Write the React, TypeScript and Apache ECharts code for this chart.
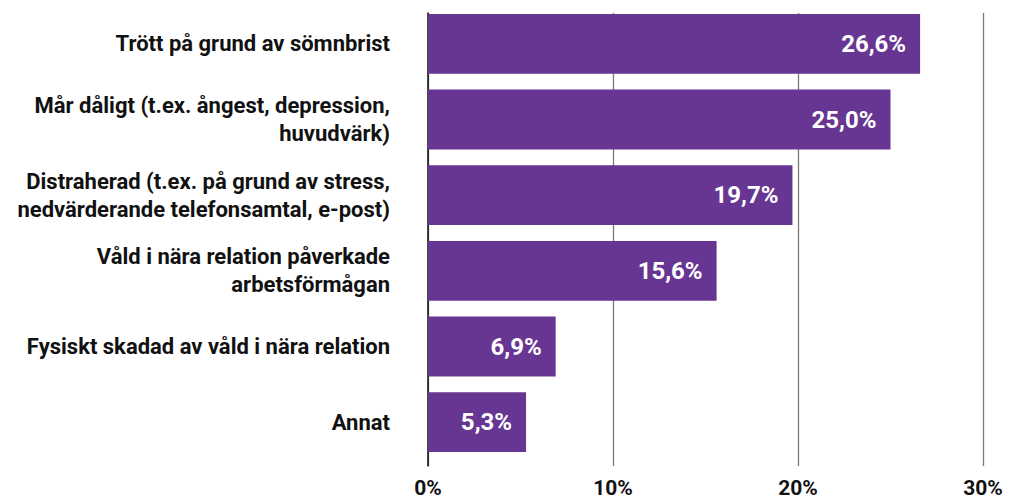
import React, { useEffect, useRef } from "react";
import * as echarts from "echarts";

const categories = [
  "Trött på grund av sömnbrist",
  "Mår dåligt (t.ex. ångest, depression,\nhuvudvärk)",
  "Distraherad (t.ex. på grund av stress,\nnedvärderande telefonsamtal, e-post)",
  "Våld i nära relation påverkade\narbetsförmågan",
  "Fysiskt skadad av våld i nära relation",
  "Annat",
];
const values = [26.6, 25.0, 19.7, 15.6, 6.9, 5.3];
const xTicks = [0, 10, 20, 30];

const FONT = "Roboto, sans-serif";

export default function App() {
  const ref = useRef<HTMLDivElement>(null);
  useEffect(() => {
    if (!ref.current) return;
    const chart = echarts.init(ref.current, null, { renderer: "svg" });
    chart.setOption({
      animation: false,
      grid: [
        { left: 428, right: 27, top: 6, height: 454 },
        { left: 428, right: 27, top: 13, bottom: 34 },
      ],
      xAxis: [
        {
          gridIndex: 0,
          type: "value",
          min: 0,
          max: xTicks[xTicks.length - 1],
          interval: 10,
          show: false,
        },
        {
          gridIndex: 1,
          type: "value",
          min: 0,
          max: xTicks[xTicks.length - 1],
          interval: 10,
          axisLine: { show: false },
          axisTick: { show: false },
          splitLine: { show: true, lineStyle: { color: "#7a7a7a", width: 1.3 } },
          axisLabel: {
            formatter: (v: number) => v + "%",
            color: "#111",
            fontSize: 21,
            fontWeight: "bold",
            fontFamily: FONT,
            margin: 11,
          },
        },
      ],
      yAxis: [
        {
          gridIndex: 0,
          type: "category",
          data: categories,
          inverse: true,
          axisLine: { show: false },
          axisTick: { show: false },
          axisLabel: {
            color: "#111",
            fontSize: 22,
            fontWeight: "bold",
            fontFamily: FONT,
            margin: 38,
            lineHeight: 28,
            align: "right",
          },
        },
        {
          gridIndex: 1,
          type: "category",
          data: categories,
          show: true,
          axisLine: { show: true, lineStyle: { color: "#111", width: 1.5 } },
          axisTick: { show: false },
          axisLabel: { show: false },
        },
      ],
      series: [
        {
          type: "bar",
          xAxisIndex: 0,
          yAxisIndex: 0,
          data: values,
          barWidth: "79%",
          itemStyle: { color: "#673592" },
          label: {
            show: true,
            position: "insideRight",
            distance: 14,
            formatter: (p: any) => p.value.toFixed(1).replace(".", ",") + "%",
            color: "#fff",
            fontSize: 24,
            fontWeight: "bold",
            fontFamily: FONT,
          },
          z: 3,
        },
      ],
    });
    return () => chart.dispose();
  }, []);
  return <div ref={ref} style={{ width: 1010, height: 500, position: "absolute", left: 0, top: 0 }} />;
}
